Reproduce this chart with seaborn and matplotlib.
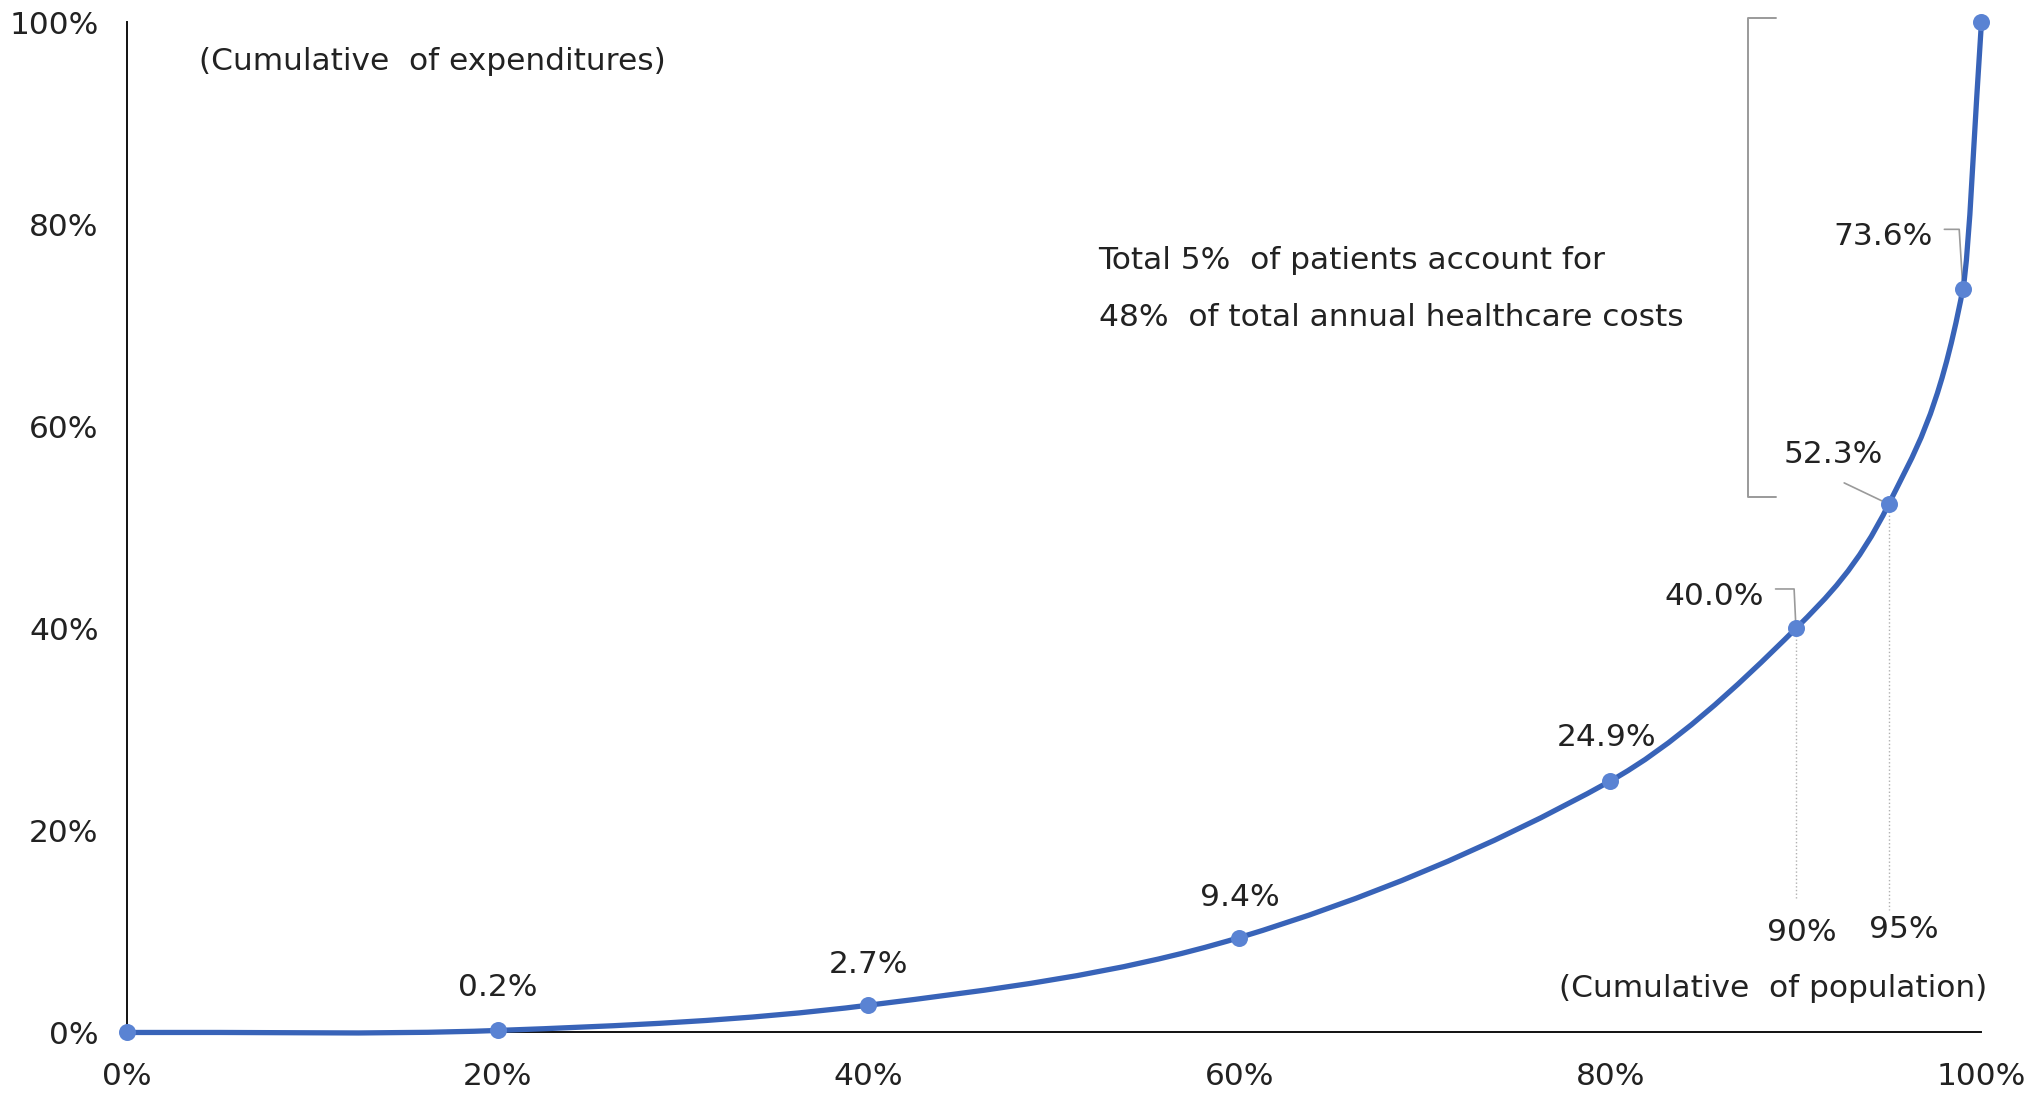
import matplotlib
matplotlib.use("Agg")
import matplotlib.pyplot as plt
from matplotlib.path import Path
from matplotlib.patches import PathPatch
import seaborn as sns
import pandas as pd

# Cumulative share of population (x) vs cumulative share of healthcare expenditure (y)
population = [0, 20, 40, 60, 80, 90, 95, 99, 100]
expenditure = [0.0, 0.2, 2.7, 9.4, 24.9, 40.0, 52.3, 73.6, 100.0]
labelled_points = [0.2, 2.7, 9.4, 24.9, 40.0, 52.3, 73.6]
axis_ticks = [0, 20, 40, 60, 80, 100]
tick_labels = ["0%", "20%", "40%", "60%", "80%", "100%"]
marker_labels = ["90%", "95%"]

sns.set_style("white")
plt.rcParams["font.family"] = ["DejaVu Sans"]

TEXT = "#222222"
LINE = "#3863B8"
DOT = "#5A83D3"
GRAY = "#9a9a9a"
FS = 22.5

df = pd.DataFrame({"population": population, "expenditure": expenditure})

fig = plt.figure(figsize=(20.44, 10.95), dpi=100)
ax = fig.add_axes([0.0619, 0.0571, 0.9075, 0.9226])


def smooth_path(xs, ys):
    """Smoothed line through the points: cubic Bezier segments with
    centred-difference tangents (Hermite form)."""
    xs, ys = list(xs), list(ys)
    n = len(xs)
    slopes = []
    for i in range(n):
        a = max(i - 1, 0)
        b = min(i + 1, n - 1)
        slopes.append((ys[b] - ys[a]) / (xs[b] - xs[a]))
    verts = [(xs[0], ys[0])]
    codes = [Path.MOVETO]
    for i in range(n - 1):
        h = (xs[i + 1] - xs[i]) / 3
        verts += [(xs[i] + h, ys[i] + slopes[i] * h),
                  (xs[i + 1] - h, ys[i + 1] - slopes[i + 1] * h),
                  (xs[i + 1], ys[i + 1])]
        codes += [Path.CURVE4] * 3
    return Path(verts, codes)


curve = PathPatch(smooth_path(df["population"], df["expenditure"]), facecolor="none",
                  edgecolor=LINE, linewidth=3.8, capstyle="round", joinstyle="round",
                  zorder=4, clip_on=False)
ax.add_patch(curve)

sns.scatterplot(data=df, x="population", y="expenditure", ax=ax, color=DOT,
                s=150, linewidth=0, zorder=5, clip_on=False)

ax.set_xlim(0, 100)
ax.set_ylim(0, 100)
ax.set_xticks(axis_ticks)
ax.set_yticks(axis_ticks)
ax.set_xticklabels(tick_labels)
ax.set_yticklabels(tick_labels)
ax.tick_params(axis="x", length=0, pad=21, labelsize=FS, labelcolor=TEXT)
ax.tick_params(axis="y", length=0, pad=20, labelsize=FS, labelcolor=TEXT)
ax.set_xlabel("")
ax.set_ylabel("")
for side in ["top", "right"]:
    ax.spines[side].set_visible(False)
for side in ["left", "bottom"]:
    ax.spines[side].set_color("#111111")
    ax.spines[side].set_linewidth(1.4)

# value labels next to each point
pts = dict(zip(expenditure, population))
label_pos = {
    0.2: (20.0, 4.5, "center"),
    2.7: (40.0, 6.7, "center"),
    9.4: (60.0, 13.4, "center"),
    24.9: (79.8, 29.2, "center"),
    40.0: (88.3, 43.2, "right"),
    52.3: (92.0, 57.2, "center"),
    73.6: (97.4, 78.8, "right"),
}
for v in labelled_points:
    lx, ly, ha = label_pos[v]
    ax.text(lx, ly, f"{v:.1f}%", ha=ha, va="center", fontsize=FS, color=TEXT)

# leader lines for the labels close to the curve
ax.plot([88.9, 89.9, 90.0], [43.9, 43.9, 40.0], color=GRAY, lw=1.2, zorder=3)
ax.plot([92.6, pts[52.3]], [54.4, 52.3], color=GRAY, lw=1.2, zorder=3)
ax.plot([98.0, 98.8, pts[73.6]], [79.5, 79.5, 73.6], color=GRAY, lw=1.2, zorder=3)

# dotted drop lines at 90% and 95% of population
ax.plot([90, 90], [40.0, 13.3], color="#b0b0b0", lw=1.0, ls=":", zorder=2)
ax.plot([95, 95], [52.3, 12.1], color="#b0b0b0", lw=1.0, ls=":", zorder=2)
ax.text(90.3, 9.9, marker_labels[0], ha="center", va="center", fontsize=FS, color=TEXT)
ax.text(95.8, 10.2, marker_labels[1], ha="center", va="center", fontsize=FS, color=TEXT)

# axis captions
ax.text(3.9, 96.1, "(Cumulative  of expenditures)", ha="left", va="center",
        fontsize=FS, color=TEXT)
ax.text(100.3, 4.4, "(Cumulative  of population)", ha="right", va="center",
        fontsize=FS, color=TEXT)

# bracket spanning the top 5% share
ax.plot([88.9, 87.4, 87.4, 88.9], [100.4, 100.4, 53.0, 53.0], color=GRAY,
        lw=1.4, clip_on=False, zorder=2)
ax.text(52.4, 76.4, "Total 5%  of patients account for", ha="left", va="center",
        fontsize=FS, color=TEXT)
ax.text(52.4, 70.8, "48%  of total annual healthcare costs", ha="left", va="center",
        fontsize=FS, color=TEXT)

fig.savefig("out.png", dpi=100, facecolor="white")
